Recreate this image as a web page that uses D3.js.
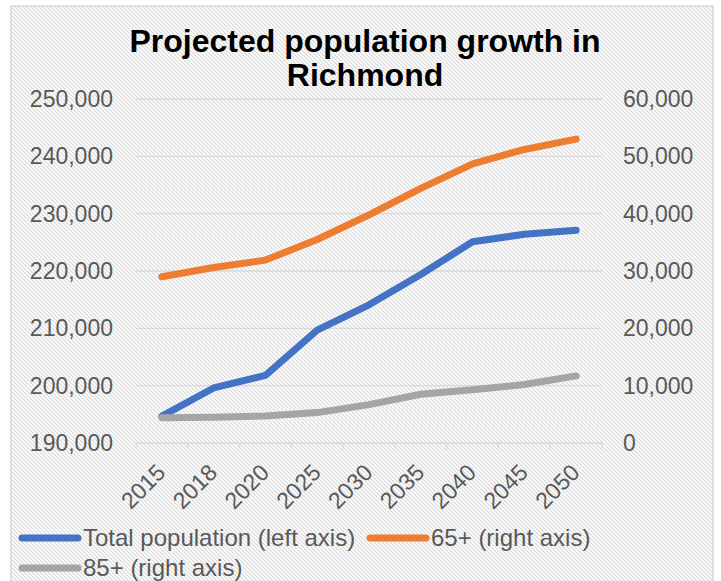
<!DOCTYPE html>
<html>
<head>
<meta charset="utf-8">
<script src="https://cdn.jsdelivr.net/npm/d3@7"></script>
<style>
  body { margin: 0; background: #fff; }
  text { font-family: "Liberation Sans", Arial, sans-serif; }
</style>
</head>
<body>
<div id="chart"></div>
<script>
// chart data
var years = ["2015", "2018", "2020", "2025", "2030", "2035", "2040", "2045", "2050"];
var totalPop = [194700, 199600, 201800, 209700, 214100, 219400, 225100, 226400, 227100];
var pop65 = [29000, 30600, 31900, 35500, 39800, 44400, 48700, 51200, 53000];
var pop85 = [4400, 4500, 4700, 5300, 6700, 8500, 9300, 10200, 11700];
var leftTicks = [190000, 200000, 210000, 220000, 230000, 240000, 250000];
var rightTicks = [0, 10000, 20000, 30000, 40000, 50000, 60000];
var seriesNames = ["Total population (left axis)", "65+ (right axis)", "85+ (right axis)"];
var seriesColors = ["#4472C4", "#ED7D31", "#A5A5A5"];

// set the dimensions and margins of the graph
var W = 721, H = 581;
var margin = {top: 99, right: 119, bottom: 138, left: 136},
    width = W - margin.left - margin.right,
    height = H - margin.top - margin.bottom;

var svg = d3.select("#chart").append("svg")
    .attr("width", W)
    .attr("height", H);

// diagonal hatch background
var defs = svg.append("defs");
var pat = defs.append("pattern")
    .attr("id", "hatch")
    .attr("patternUnits", "userSpaceOnUse")
    .attr("width", 4)
    .attr("height", 4);
pat.append("rect").attr("width", 4).attr("height", 4).attr("fill", "#fff");
pat.append("path")
    .attr("d", "M-1,3 l2,2 M0,0 l4,4 M3,-1 l2,2")
    .attr("stroke", "#d8d8d8")
    .attr("stroke-width", 1.2);

svg.append("rect")
    .attr("x", 11).attr("y", 6)
    .attr("width", 702).attr("height", 590)
    .attr("fill", "url(#hatch)")
    .attr("stroke", "#d9d9d9")
    .attr("stroke-width", 1.5);

var g = svg.append("g")
    .attr("transform", "translate(" + margin.left + "," + margin.top + ")");

// set the ranges
var x = d3.scaleBand().domain(years).range([0, width]);
var yLeft = d3.scaleLinear().domain([190000, 250000]).range([height, 0]);
var yRight = d3.scaleLinear().domain([0, 60000]).range([height, 0]);

// minor gridlines
var minor = d3.range(190000, 250000, 2000).filter(function(d) { return d % 10000 != 0; });
g.selectAll(".minor").data(minor).enter().append("line")
    .attr("x1", 0).attr("x2", width)
    .attr("y1", function(d) { return yLeft(d); })
    .attr("y2", function(d) { return yLeft(d); })
    .attr("stroke", "#f0f0f0")
    .attr("stroke-width", 1.3);

// major gridlines
g.selectAll(".major").data(leftTicks.slice(1)).enter().append("line")
    .attr("x1", 0).attr("x2", width)
    .attr("y1", function(d) { return yLeft(d); })
    .attr("y2", function(d) { return yLeft(d); })
    .attr("stroke", "#d9d9d9")
    .attr("stroke-width", 1.3);

// x axis with ticks on category boundaries
g.append("line")
    .attr("x1", 0).attr("x2", width)
    .attr("y1", height).attr("y2", height)
    .attr("stroke", "#d9d9d9")
    .attr("stroke-width", 1.3);
var bounds = years.map(function(d) { return x(d); }).concat([width]);
g.selectAll(".xtick").data(bounds).enter().append("line")
    .attr("x1", function(d) { return d; })
    .attr("x2", function(d) { return d; })
    .attr("y1", height).attr("y2", height + 6)
    .attr("stroke", "#d9d9d9")
    .attr("stroke-width", 1.3);

g.selectAll(".xlabel").data(years).enter().append("text")
    .attr("transform", function(d) {
      return "translate(" + (x(d) + x.bandwidth() / 2 + 5) + "," + (height + 31) + ") rotate(-45)";
    })
    .style("text-anchor", "end")
    .style("font-size", "23px")
    .attr("fill", "#595959")
    .text(function(d) { return d; });

// left axis labels
var fmt = d3.format(",");
g.selectAll(".ylabel").data(leftTicks).enter().append("text")
    .attr("x", -23)
    .attr("y", function(d) { return yLeft(d); })
    .attr("dy", "0.35em")
    .style("text-anchor", "end")
    .style("font-size", "23px")
    .attr("fill", "#595959")
    .text(function(d) { return fmt(d); });

// right axis labels
g.selectAll(".y2label").data(rightTicks).enter().append("text")
    .attr("x", width + 21)
    .attr("y", function(d) { return yRight(d); })
    .attr("dy", "0.35em")
    .style("text-anchor", "start")
    .style("font-size", "23px")
    .attr("fill", "#595959")
    .text(function(d) { return fmt(d); });

// define the lines
var cx = function(d, i) { return x(years[i]) + x.bandwidth() / 2; };
var leftLine = d3.line().x(cx).y(function(d) { return yLeft(d); });
var rightLine = d3.line().x(cx).y(function(d) { return yRight(d); });

var lines = [
  {values: totalPop, gen: leftLine},
  {values: pop65, gen: rightLine},
  {values: pop85, gen: rightLine}
];
lines.forEach(function(s, i) {
  g.append("path")
      .datum(s.values)
      .attr("fill", "none")
      .attr("stroke", seriesColors[i])
      .attr("stroke-width", 7)
      .attr("stroke-linecap", "round")
      .attr("stroke-linejoin", "round")
      .attr("d", s.gen);
});

// title
var title = svg.append("text")
    .attr("x", 365)
    .attr("y", 52)
    .style("text-anchor", "middle")
    .style("font-size", "32px")
    .style("font-weight", "bold")
    .attr("fill", "#000");
title.append("tspan").attr("x", 365).text("Projected population growth in");
title.append("tspan").attr("x", 365).attr("dy", 34).text("Richmond");

// legend
var legendPos = [{x: 22, y: 538}, {x: 370, y: 538}, {x: 22, y: 568}];
var legend = svg.selectAll(".legend").data(seriesNames).enter().append("g")
    .attr("transform", function(d, i) {
      return "translate(" + legendPos[i].x + "," + legendPos[i].y + ")";
    });
legend.append("line")
    .attr("x1", 0).attr("x2", 56)
    .attr("y1", 0).attr("y2", 0)
    .attr("stroke", function(d, i) { return seriesColors[i]; })
    .attr("stroke-width", 7)
    .attr("stroke-linecap", "round");
legend.append("text")
    .attr("x", 61)
    .attr("dy", "0.35em")
    .style("font-size", "24px")
    .attr("fill", "#595959")
    .text(function(d) { return d; });
</script>
</body>
</html>
